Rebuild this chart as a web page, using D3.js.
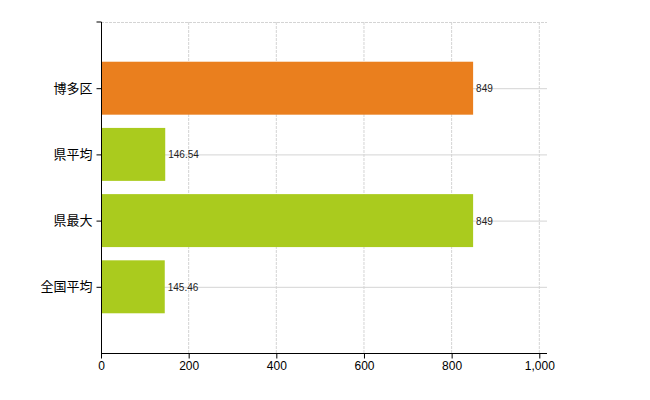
<!DOCTYPE html><html><head><meta charset="utf-8"><script src="https://d3js.org/d3.v7.min.js"></script>
<style>body{margin:0;background:#fff}text{font-family:"Noto Sans CJK JP",sans-serif}</style></head><body><svg id="c" width="650" height="400"></svg><script>
const categories=["博多区","県平均","県最大","全国平均"];
const values=[849,146.54,849,145.46];
const labels=["849","146.54","849","145.46"];
const colors=["#EA7F1E","#AACB1E","#AACB1E","#AACB1E"];
const xTicks=[0,200,400,600,800,1000];
const svg=d3.select("#c");
const x=d3.scaleLinear().domain([0,1000]).range([101,539.3]);
const y=d3.scalePoint().domain(categories).range([22,353]).padding(1);
const right=547;
// grid
svg.selectAll(".vg").data(xTicks.slice(1)).join("line").attr("x1",d=>x(d)).attr("x2",d=>x(d)).attr("y1",22).attr("y2",353).attr("stroke","#d4d4d4").attr("stroke-dasharray",d=>"3,1");
svg.append("line").attr("x1",101).attr("x2",right).attr("y1",22.5).attr("y2",22.5).attr("stroke","#d4d4d4").attr("stroke-dasharray","3,1");
svg.selectAll(".hg").data(categories).join("line").attr("x1",101).attr("x2",right).attr("y1",d=>y(d)+0.5).attr("y2",d=>y(d)+0.5).attr("stroke","#d4d4d4");
const bh=y.step()*0.8;
svg.selectAll(".bar").data(values).join("rect").attr("x",x(0)).attr("y",(d,i)=>y(categories[i])-bh/2).attr("width",d=>x(d)-x(0)).attr("height",bh).attr("fill",(d,i)=>colors[i]);
svg.selectAll(".lab").data(values).join("text").attr("x",d=>x(d)+3).attr("y",(d,i)=>y(categories[i])+4).attr("font-size",10).attr("fill","#222").text((d,i)=>labels[i]).style("font-family","Liberation Sans, Arial");
// axes
const ga=svg.append("g").attr("transform","translate(0,353.5)").call(d3.axisBottom(x).tickValues(xTicks).tickSize(5).tickSizeOuter(0));
ga.selectAll("text").attr("font-size",12).attr("fill","#000").style("font-family","Liberation Sans, Arial");
ga.select(".domain").attr("d","M101,0H"+right);
const gy=svg.append("g").attr("transform","translate(101.5,0)").call(d3.axisLeft(y).tickSize(5).tickSizeOuter(0));
gy.select(".domain").attr("d","M-5,22H0V353");
gy.selectAll("text").attr("font-size",13).attr("fill","#000").attr("dx",-1);
</script></body></html>
